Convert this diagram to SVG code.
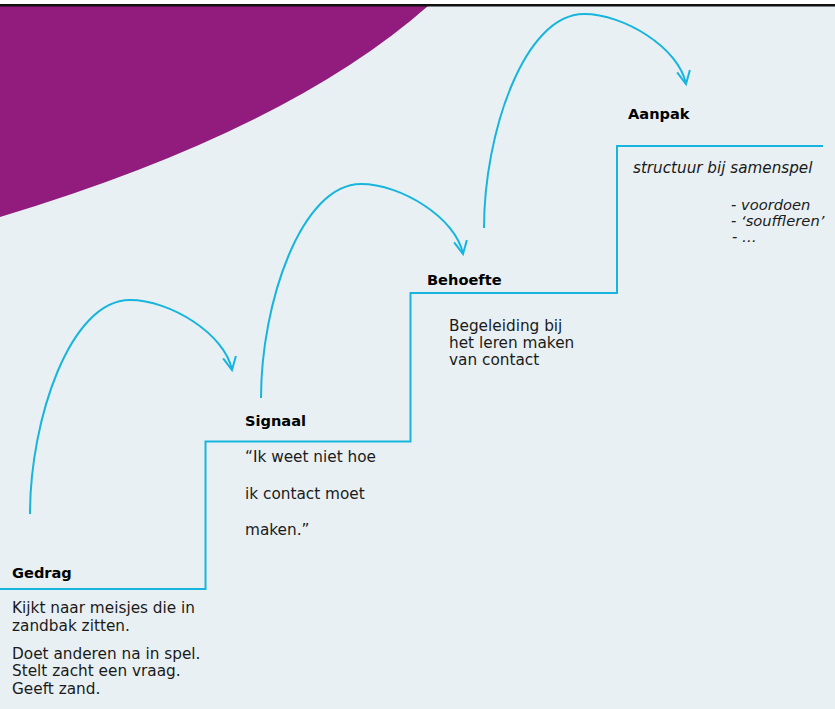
<svg xmlns="http://www.w3.org/2000/svg" width="835" height="709" viewBox="0 0 835 709">
<defs>
<style>
.t{font-family:"DejaVu Sans",Verdana,sans-serif;font-size:15.3px;fill:#1a1a1a}
.b{font-family:"DejaVu Sans",Verdana,sans-serif;font-size:14.6px;font-weight:bold;fill:#000}
.i{font-style:italic;font-size:15.2px}
.l{font-size:14.7px}
.arc{fill:none;stroke:#17b5de;stroke-width:2;marker-end:url(#ah)}
.step{fill:none;stroke:#17b5de;stroke-width:2;stroke-linejoin:miter}
</style>
<marker id="ah" markerUnits="userSpaceOnUse" markerWidth="30" markerHeight="30" refX="15" refY="15" orient="auto" viewBox="0 0 30 30">
<path d="M2,8.5 L15,15 L2,21.5" fill="none" stroke="#17b5de" stroke-width="2"/>
</marker>
<path id="arcshape" d="M0,0 C0,-94 40,-214 100,-214 C140,-214 195,-180 202,-144"/>
</defs>
<rect x="0" y="0" width="835" height="709" fill="#e8f0f3"/>
<rect x="0" y="0" width="835" height="4" fill="#ffffff"/>
<path d="M0,6 L428,6 Q286,131 0,217 Z" fill="#921c7e"/>
<rect x="0" y="4" width="835" height="2.5" fill="#111111"/>

<g id="connectors">
<path class="step" d="M0,589 H205.5 V441.5 H410.5 V293 H617 V146 H823"/>
<use href="#arcshape" class="arc" transform="translate(30,514)"/>
<use href="#arcshape" class="arc" transform="translate(261,398)"/>
<use href="#arcshape" class="arc" transform="translate(484,228)"/>
</g>

<g id="gedrag">
<text class="b" x="12" y="578">Gedrag</text>
<text class="t" x="12" y="613">Kijkt naar meisjes die in</text>
<text class="t" x="12" y="630.5">zandbak zitten.</text>
<text class="t" x="12" y="658.5">Doet anderen na in spel.</text>
<text class="t" x="12" y="676">Stelt zacht een vraag.</text>
<text class="t" x="12" y="693.5">Geeft zand.</text>
</g>

<g id="signaal">
<text class="b" x="245" y="426">Signaal</text>
<text class="t" x="245" y="462">“Ik weet niet hoe</text>
<text class="t" x="245" y="499">ik contact moet</text>
<text class="t" x="245" y="535">maken.”</text>
</g>

<g id="behoefte">
<text class="b" x="427" y="285">Behoefte</text>
<text class="t" x="449" y="331">Begeleiding bij</text>
<text class="t" x="449" y="348">het leren maken</text>
<text class="t" x="449" y="365">van contact</text>
</g>

<g id="aanpak">
<text class="b" x="628" y="119">Aanpak</text>
<text class="t i" x="633" y="173">structuur bij samenspel</text>
<text class="t i l" x="731" y="210">- voordoen</text>
<text class="t i l" x="731" y="226">- ‘souffleren’</text>
<text class="t i l" x="732" y="242">- …</text>
</g>
</svg>
